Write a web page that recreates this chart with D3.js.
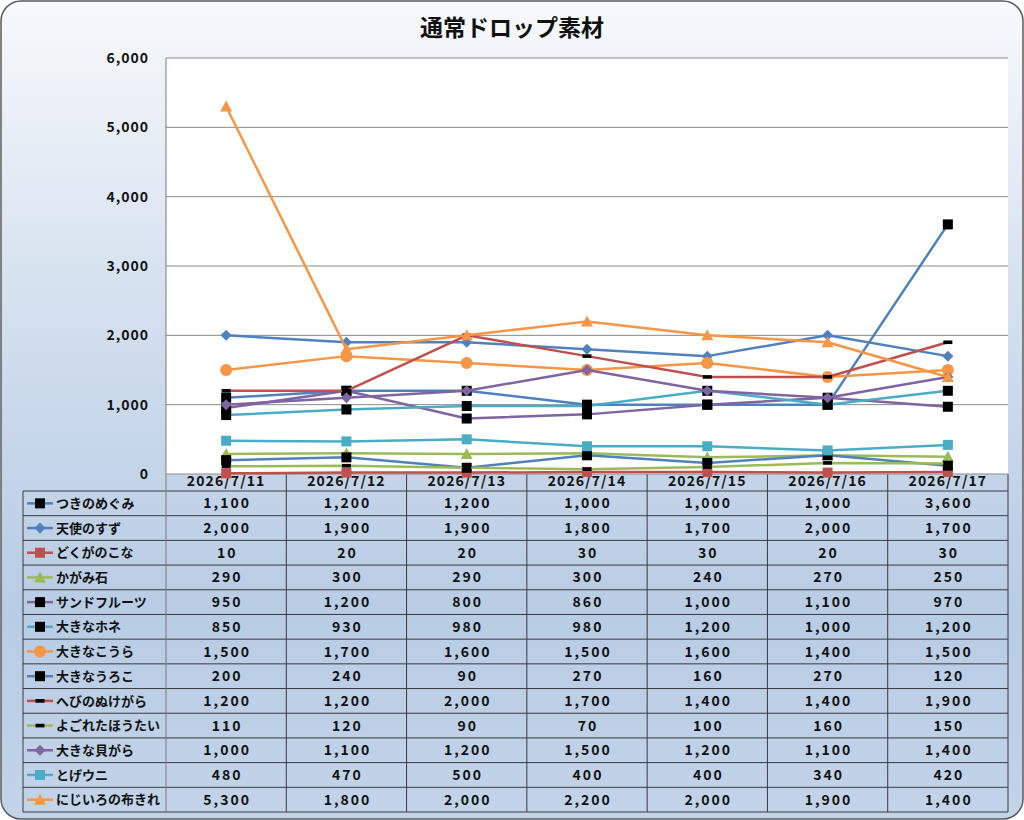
<!DOCTYPE html>
<html>
<head>
<meta charset="utf-8">
<script src="https://cdn.jsdelivr.net/npm/d3@7"></script>
<style>
  body { margin: 0; background: #fff; }
  text { font-family: "Noto Sans CJK JP", "Noto Sans", sans-serif; fill: #111; }
</style>
</head>
<body>
<svg id="chart" width="1024" height="820"></svg>
<script>
const dates = ['2026/7/11', '2026/7/12', '2026/7/13', '2026/7/14', '2026/7/15', '2026/7/16', '2026/7/17'];
const names = ['つきのめぐみ', '天使のすず', 'どくがのこな', 'かがみ石', 'サンドフルーツ', '大きなホネ',
    '大きなこうら', '大きなうろこ', 'へびのぬけがら', 'よごれたほうたい', '大きな貝がら', 'とげウニ', 'にじいろの布きれ'];
const tsukinomegumi = [1100, 1200, 1200, 1000, 1000, 1000, 3600];
const tenshinosuzu = [2000, 1900, 1900, 1800, 1700, 2000, 1700];
const dokuganokona = [10, 20, 20, 30, 30, 20, 30];
const kagamiishi = [290, 300, 290, 300, 240, 270, 250];
const sandfruits = [950, 1200, 800, 860, 1000, 1100, 970];
const ookinahone = [850, 930, 980, 980, 1200, 1000, 1200];
const ookinakoura = [1500, 1700, 1600, 1500, 1600, 1400, 1500];
const ookinauroko = [200, 240, 90, 270, 160, 270, 120];
const hebinonukegara = [1200, 1200, 2000, 1700, 1400, 1400, 1900];
const yogoretahoutai = [110, 120, 90, 70, 100, 160, 150];
const ookinakaigara = [1000, 1100, 1200, 1500, 1200, 1100, 1400];
const togeuni = [480, 470, 500, 400, 400, 340, 420];
const nijiirononunokire = [5300, 1800, 2000, 2200, 2000, 1900, 1400];
const yTicks = [0, 1000, 2000, 3000, 4000, 5000, 6000];

const values = [tsukinomegumi, tenshinosuzu, dokuganokona, kagamiishi, sandfruits, ookinahone,
    ookinakoura, ookinauroko, hebinonukegara, yogoretahoutai, ookinakaigara, togeuni, nijiirononunokire];

// excel 2007 palette
const blue = '#4f81bd', red = '#c0504d', green = '#9bbb59', purple = '#8064a2', aqua = '#4bacc6', orange = '#f79646';
const lineColors = [blue, blue, red, green, purple, aqua, orange, blue, red, green, purple, aqua, orange];
const markers = [
    {shape: 'square', fill: '#000'}, {shape: 'diamond', fill: blue}, {shape: 'square', fill: red},
    {shape: 'triangle', fill: green}, {shape: 'square', fill: '#000'}, {shape: 'square', fill: '#000'},
    {shape: 'circle', fill: orange}, {shape: 'square', fill: '#000'}, {shape: 'dash', fill: '#000'},
    {shape: 'dash', fill: '#000'}, {shape: 'diamond', fill: purple}, {shape: 'square', fill: aqua},
    {shape: 'triangle', fill: orange}
];

const series = names.map((n, i) => ({name: n, values: values[i], color: lineColors[i], marker: markers[i]}));

const svg = d3.select('#chart');
const W = 1024, H = 820;
const plot = {left: 166, right: 1008, top: 58, bottom: 474};
const table = {left: 23, headBottom: 491, bottom: 812};

const defs = svg.append('defs');
const grad = defs.append('linearGradient').attr('id', 'bg')
    .attr('x1', 0).attr('y1', 0).attr('x2', 0).attr('y2', 1);
grad.append('stop').attr('offset', '0%').attr('stop-color', '#f7f9fc');
grad.append('stop').attr('offset', '45%').attr('stop-color', '#cddbec');
grad.append('stop').attr('offset', '75%').attr('stop-color', '#b8cce4');
grad.append('stop').attr('offset', '100%').attr('stop-color', '#c3d4e9');

svg.append('rect')
    .attr('x', 1).attr('y', 1).attr('width', W - 2).attr('height', H - 2)
    .attr('rx', 20).attr('ry', 20)
    .attr('fill', 'url(#bg)')
    .attr('stroke', '#5b5b5b').attr('stroke-width', 1.5);

svg.append('text')
    .attr('x', W / 2).attr('y', 36)
    .attr('text-anchor', 'middle')
    .attr('font-size', 23).attr('font-weight', 'bold')
    .text('通常ドロップ素材');

const x = d3.scaleBand().domain(dates).range([plot.left, plot.right]);
const y = d3.scaleLinear().domain([0, 6000]).range([plot.bottom, plot.top]);

svg.append('rect')
    .attr('x', plot.left).attr('y', plot.top)
    .attr('width', plot.right - plot.left).attr('height', plot.bottom - plot.top)
    .attr('fill', '#fff');

// gridlines
svg.append('g').selectAll('line').data(yTicks.filter(d => d > 0)).enter().append('line')
    .attr('x1', plot.left).attr('x2', plot.right)
    .attr('y1', d => y(d)).attr('y2', d => y(d))
    .attr('stroke', '#8a8a8a').attr('stroke-width', 1);

const yAxis = d3.axisLeft(y).tickValues(yTicks).tickSize(0).tickPadding(17).tickFormat(d3.format(','));
svg.append('g')
    .attr('transform', `translate(${plot.left},0)`)
    .call(yAxis)
    .call(g => g.select('.domain').remove())
    .selectAll('text')
        .attr('font-size', 14).attr('font-weight', 'bold')
        .attr('letter-spacing', 1)
        .attr('font-family', '"Noto Sans CJK JP", sans-serif')
        .attr('fill', '#222');

// table grid
const grid = svg.append('g').attr('stroke', '#3a3a3a').attr('stroke-width', 1);
const rowH = (table.bottom - table.headBottom) / names.length;
const rowY = d3.range(names.length + 1).map(i => table.headBottom + i * rowH);
grid.selectAll('.h').data(rowY).enter().append('line')
    .attr('x1', table.left).attr('x2', plot.right)
    .attr('y1', d => d).attr('y2', d => d);
const colX = dates.map(d => x(d)).concat([plot.right]);
grid.selectAll('.v').data(colX).enter().append('line')
    .attr('x1', d => d).attr('x2', d => d)
    .attr('y1', (d, i) => i === 0 ? plot.top : plot.bottom).attr('y2', table.bottom)
    .attr('stroke', (d, i) => i === 0 ? '#7a7a7a' : '#3a3a3a');
grid.append('line')
    .attr('x1', table.left).attr('x2', table.left)
    .attr('y1', table.headBottom).attr('y2', table.bottom);
grid.append('line')
    .attr('x1', plot.left).attr('x2', plot.right)
    .attr('y1', plot.bottom).attr('y2', plot.bottom)
    .attr('stroke', '#8a8a8a');

// date header
const xAxis = d3.axisBottom(x).tickSize(0).tickPadding(2);
svg.append('g')
    .attr('transform', `translate(0,${plot.bottom})`)
    .call(xAxis)
    .call(g => g.select('.domain').remove())
    .selectAll('text')
        .attr('font-size', 14).attr('font-weight', 'bold')
        .attr('letter-spacing', 1.1)
        .attr('font-family', '"Noto Sans CJK JP", sans-serif')
        .attr('fill', '#111');

function drawMarker(g, m, cx, cy) {
    if (m.shape === 'square') {
        g.append('rect').attr('x', cx - 5).attr('y', cy - 5).attr('width', 10).attr('height', 10)
            .attr('fill', m.fill);
    } else if (m.shape === 'diamond') {
        g.append('path').attr('d', `M${cx},${cy - 5.5}L${cx + 5.5},${cy}L${cx},${cy + 5.5}L${cx - 5.5},${cy}Z`)
            .attr('fill', m.fill);
    } else if (m.shape === 'triangle') {
        g.append('path').attr('d', `M${cx},${cy - 6}L${cx + 6},${cy + 5}L${cx - 6},${cy + 5}Z`)
            .attr('fill', m.fill);
    } else if (m.shape === 'circle') {
        g.append('circle').attr('cx', cx).attr('cy', cy).attr('r', 6).attr('fill', m.fill);
    } else if (m.shape === 'dash') {
        g.append('rect').attr('x', cx - 4.5).attr('y', cy - 1.8).attr('width', 9).attr('height', 3.6)
            .attr('fill', m.fill);
    }
}

// lines
const line = d3.line()
    .x((d, i) => x(dates[i]) + x.bandwidth() / 2)
    .y(d => y(d));

series.forEach(s => {
    const g = svg.append('g');
    g.append('path')
        .attr('d', line(s.values))
        .attr('fill', 'none')
        .attr('stroke', s.color).attr('stroke-width', 2.5)
        .attr('stroke-linejoin', 'round');
    s.values.forEach((v, i) => drawMarker(g, s.marker, x(dates[i]) + x.bandwidth() / 2, y(v)));
});

// table rows
const fmt = d3.format(',');
series.forEach((s, r) => {
    const cy = rowY[r] + rowH / 2;
    const g = svg.append('g');
    g.append('line').attr('x1', 27).attr('x2', 53).attr('y1', cy).attr('y2', cy)
        .attr('stroke', s.color).attr('stroke-width', 2.5);
    drawMarker(g, s.marker, 40, cy);
    g.append('text')
        .attr('x', 56).attr('y', cy).attr('dy', '0.36em')
        .attr('font-size', 13).attr('font-weight', 'bold')
        .text(s.name);
    s.values.forEach((v, i) => {
        g.append('text')
            .attr('x', x(dates[i]) + x.bandwidth() / 2 + 1).attr('y', cy).attr('dy', '0.36em')
            .attr('text-anchor', 'middle')
            .attr('font-size', 14).attr('font-weight', 'bold')
            .attr('letter-spacing', 2)
            .text(fmt(v));
    });
});
</script>
</body>
</html>
